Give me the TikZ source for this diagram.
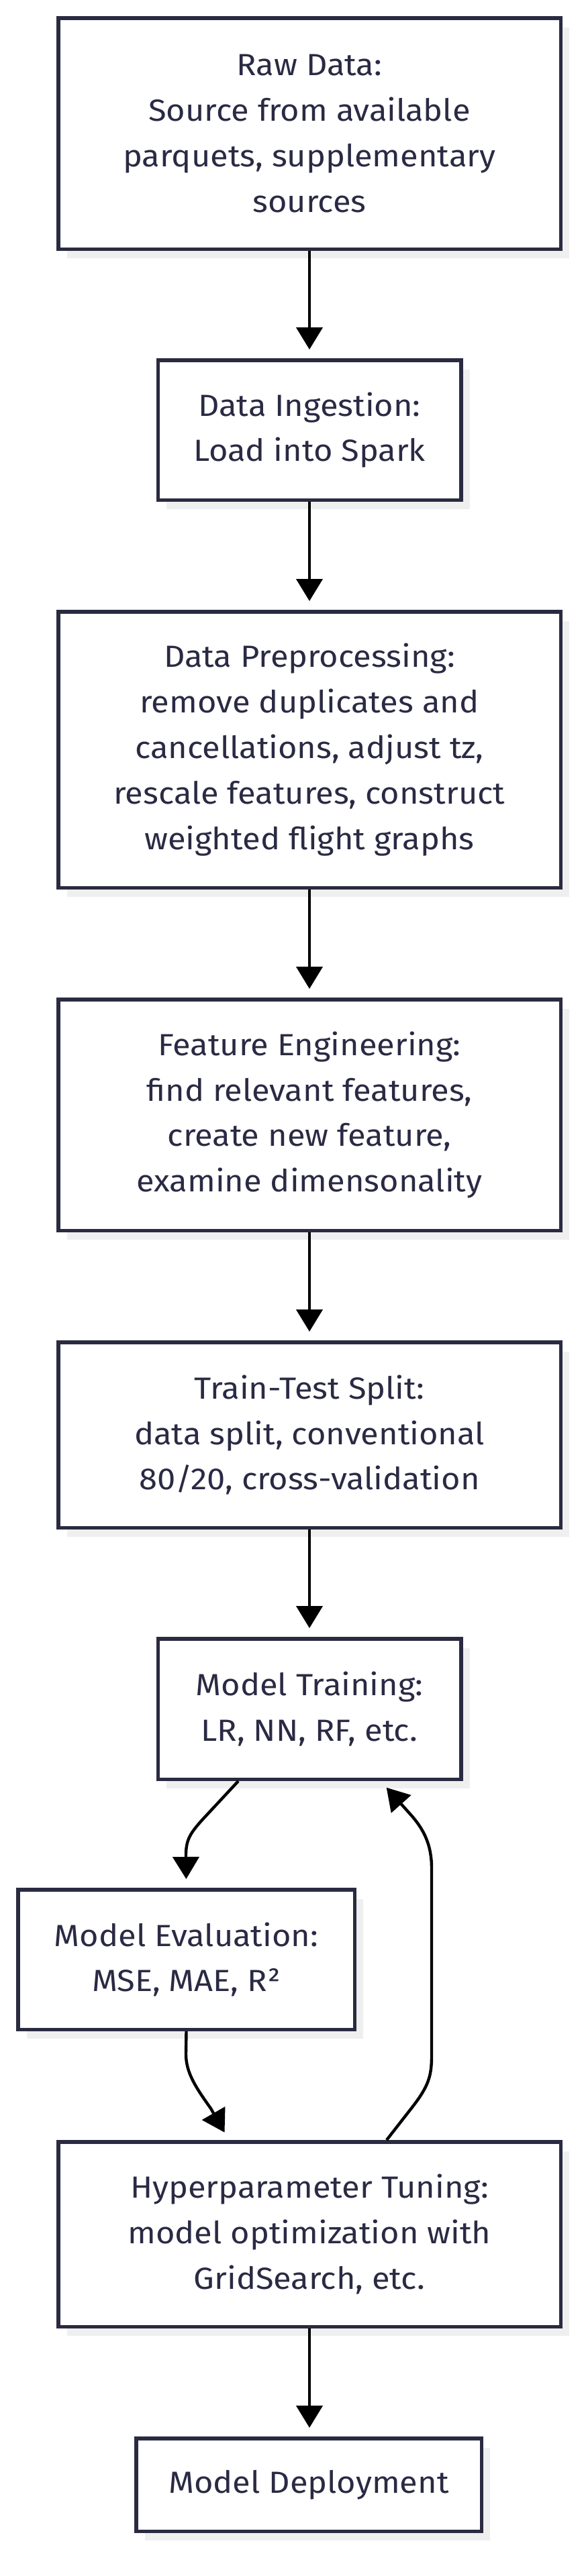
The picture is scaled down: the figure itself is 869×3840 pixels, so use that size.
\documentclass[tikz,border=0pt]{standalone}
\usepackage{fontspec}
\setmainfont[FakeStretch=1.07]{Fira Sans}
\usepackage{tikz}
\usetikzlibrary{arrows.meta,shadows}
\definecolor{boxline}{HTML}{2A2A40}
\definecolor{boxtext}{HTML}{2A2A44}
\definecolor{shadowgray}{HTML}{EFEFEF}
\tikzset{every picture/.style={x=0.5pt,y=-0.5pt}}
\tikzset{
  stage/.style={draw=boxline, line width=2.75pt, fill=white, text=boxtext,
    align=center, inner sep=0pt,
    font=\fontsize{22.8pt}{33.9pt}\selectfont,
    drop shadow={shadow xshift=6.5pt, shadow yshift=-7pt, fill=shadowgray, opacity=1}},
  wide/.style={minimum width=374.25pt},
  flow/.style={line width=2.2pt, -{Triangle[length=16.5pt,width=19.5pt]}, shorten >=6.5pt}
}

\begin{document}
\begin{tikzpicture}
        \useasboundingbox (0,0) rectangle (869,3840);
        % Pipeline stages
        \node[stage, wide, minimum height=172.25pt] (raw) at (461,199)
            {Raw Data:\\Source from available\\parquets, supplementary\\sources};
        \node[stage, minimum width=225.75pt, minimum height=104.25pt] (ingest) at (461,641)
            {Data Ingestion:\\Load into Spark};
        \node[stage, wide, minimum height=205.75pt] (prep) at (461,1117.5)
            {Data Preprocessing:\\remove duplicates and\\cancellations, adjust tz,\\rescale features, construct\\weighted flight graphs};
        \node[stage, wide, minimum height=172.25pt] (feat) at (461,1662)
            {Feature Engineering:\\find relevant features,\\create new feature,\\examine dimensonality};
        \node[stage, wide, minimum height=138.25pt] (split) at (461,2139)
            {Train-Test Split:\\data split, conventional\\80/20, cross-validation};
        \node[stage, minimum width=225.75pt, minimum height=104.75pt] (train) at (461,2547.5)
            {Model Training:\\LR, NN, RF, etc.};
        \node[stage, minimum width=250.75pt, minimum height=104.25pt] (eval) at (277.5,2921)
            {Model Evaluation:\\MSE, MAE, R²};
        \node[stage, wide, minimum height=137.75pt] (tune) at (461,3330.5)
            {Hyperparameter Tuning:\\model optimization with\\GridSearch, etc.};
        \node[stage, minimum width=257.25pt, minimum height=69.25pt] (deploy) at (460,3704)
            {Model Deployment};

        % Straight arrows
        \draw[flow] (raw) -- (ingest);
        \draw[flow] (ingest) -- (prep);
        \draw[flow] (prep) -- (feat);
        \draw[flow] (feat) -- (split);
        \draw[flow] (split) -- (train);
        \draw[flow] (tune.south) -- (deploy.north -| tune.south);

        % Loop between training, evaluation and tuning
        \draw[flow] ([xshift=-53pt]train.south) -- (302,2712)
            .. controls (284,2732) and (277,2742) .. (277,2765) -- (eval.north);
        \draw[flow] (eval.south) -- (277,3062)
            .. controls (277,3090) and (292,3112) .. (314,3143) -- ([xshift=-60pt]tune.north);
        \draw[flow] ([xshift=57.5pt]tune.north) -- (615,3140)
            .. controls (638,3110) and (643,3095) .. (643,3065) -- (643,2785)
            .. controls (643,2752) and (633,2728) .. (610,2703) -- ([xshift=53pt]train.south);
    \end{tikzpicture}
\end{document}
